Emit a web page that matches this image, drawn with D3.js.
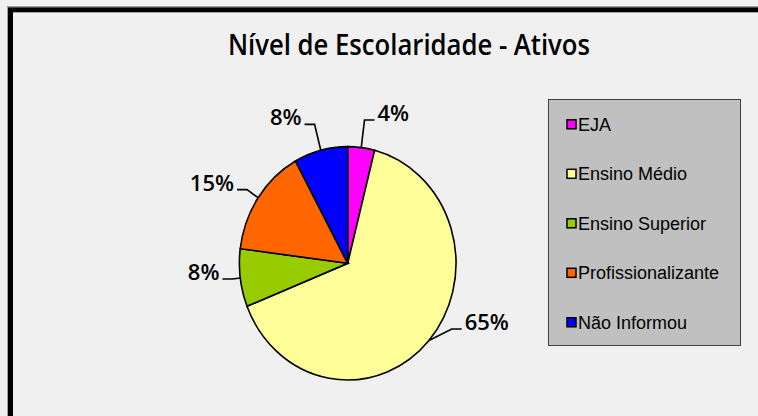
<!DOCTYPE html>
<html>
<head>
<meta charset="utf-8">
<script src="https://cdn.jsdelivr.net/npm/d3@7"></script>
<style>
  html, body { margin: 0; padding: 0; background: #f0f0f0; }
  svg { display: block; }
</style>
</head>
<body>
<svg id="chart"></svg>
<script>
// chart data
const categories = ["EJA", "Ensino Médio", "Ensino Superior", "Profissionalizante", "Não Informou"];
const percents = [4, 65, 8, 15, 8];
const sliceColors = ["#ff00ff", "#ffff99", "#99cc00", "#ff6600", "#0000ff"];
const title = "Nível de Escolaridade - Ativos";

const width = 758, height = 416;
const cx = 347.7, cy = 263.3, rx = 108.3, ry = 116.7;
// the big slice label sits a bit higher than its mid angle
const labelAngleShift = {"Ensino Médio": -11};

const svg = d3.select("#chart").attr("width", width).attr("height", height);

// frame
svg.append("rect")
    .attr("x", 7.5).attr("y", 6.5)
    .attr("width", 800).attr("height", 500)
    .attr("fill", "none").attr("stroke", "#a0a0a0").attr("stroke-width", 1);
svg.append("rect")
    .attr("x", 10.5).attr("y", 9.8)
    .attr("width", 800).attr("height", 500)
    .attr("fill", "#f0f0f0").attr("stroke", "#000").attr("stroke-width", 5);

svg.append("text")
    .attr("x", 409).attr("y", 55)
    .attr("text-anchor", "middle")
    .attr("font-family", "'Open Sans', sans-serif")
    .attr("font-weight", 600)
    .attr("font-size", 28)
    .attr("textLength", 362)
    .attr("lengthAdjust", "spacingAndGlyphs")
    .attr("fill", "#000")
    .text(title);

let color = d3.scaleOrdinal().domain(categories).range(sliceColors);
let data = categories.map((c, i) => ({cat: c, value: percents[i]}));

let pie = d3.pie().sort(null).value(d => d.value);
let arcs = pie(data);

// pie is drawn round then squashed horizontally, like the picture
let arc = d3.arc().innerRadius(0).outerRadius(ry);

let pieG = svg.append("g")
    .attr("transform", `translate(${cx},${cy}) scale(${rx / ry},1)`);

pieG.selectAll("path")
    .data(arcs)
    .join("path")
    .attr("d", arc)
    .attr("fill", d => color(d.data.cat))
    .attr("stroke", "#000")
    .attr("stroke-width", 1.6)
    .attr("vector-effect", "non-scaling-stroke");

// labels with leader lines
function pt(angle, k) {
    return [cx + rx * k * Math.sin(angle), cy - ry * k * Math.cos(angle)];
}

let labelG = svg.append("g");
arcs.forEach(d => {
    let mid = (d.startAngle + d.endAngle) / 2;
    let la = mid + (labelAngleShift[d.data.cat] || 0) * Math.PI / 180;
    let right = Math.sin(la) > 0;
    // labels above/below the pie need a longer leader than the side ones
    let k = 1.07 + 0.17 * Math.cos(la) ** 2;
    let p0 = pt(mid, 1);
    let p1 = pt(la, k);
    let p2 = [p1[0] + (right ? 10 : -10), p1[1]];

    labelG.append("polyline")
        .attr("points", [p0, p1, p2].map(p => p.join(",")).join(" "))
        .attr("fill", "none")
        .attr("stroke", "#000")
        .attr("stroke-width", 1.6);

    labelG.append("text")
        .attr("x", p2[0] + (right ? 3 : -3))
        .attr("y", p1[1] + 1)
        .attr("text-anchor", right ? "start" : "end")
        .attr("font-family", "'Open Sans', sans-serif")
        .attr("font-weight", 600)
        .attr("font-size", 22)
        .attr("fill", "#000")
        .text(d.data.value + "%");
});

// legend
let legendY = d3.scalePoint().domain(categories).range([124.3, 322.3]);

let legend = svg.append("g");
legend.append("rect")
    .attr("x", 548.5).attr("y", 99.5)
    .attr("width", 192).attr("height", 246)
    .attr("fill", "#c0c0c0")
    .attr("stroke", "#404040")
    .attr("stroke-width", 1);

legend.selectAll("rect.swatch")
    .data(categories)
    .join("rect")
    .attr("class", "swatch")
    .attr("x", 567).attr("y", d => legendY(d) - 4.5)
    .attr("width", 9).attr("height", 9)
    .attr("fill", d => color(d))
    .attr("stroke", "#000")
    .attr("stroke-width", 1.5);

legend.selectAll("text")
    .data(categories)
    .join("text")
    .attr("x", 578)
    .attr("y", d => legendY(d) + 6.3)
    .attr("font-family", "'Liberation Sans', Arial, sans-serif")
    .attr("font-size", 18)
    .attr("fill", "#000")
    .text(d => d);
</script>
</body>
</html>
